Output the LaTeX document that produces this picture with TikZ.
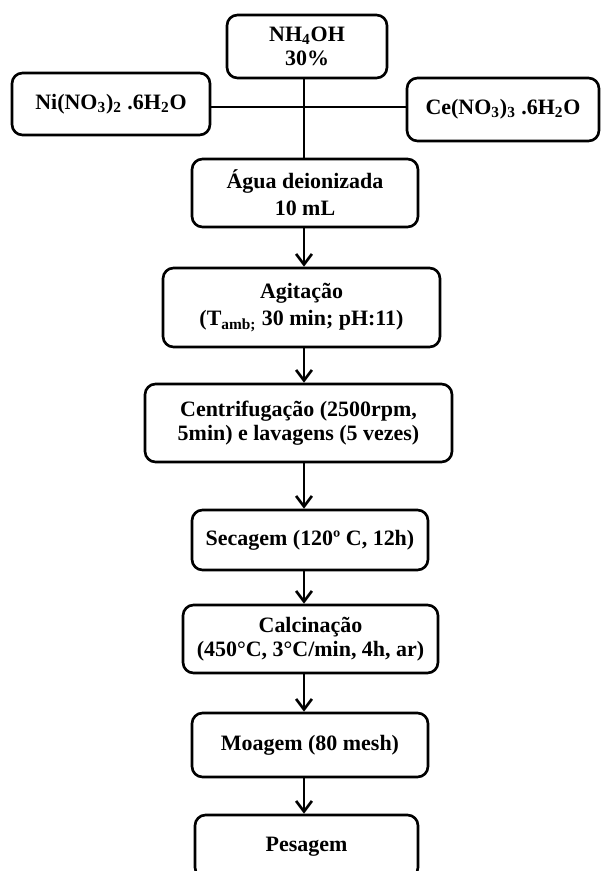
\documentclass[tikz,border=0pt]{standalone}
\usepackage{fontspec}
\setmainfont{Liberation Serif}
\usetikzlibrary{arrows.meta}

\begin{document}
\begin{tikzpicture}[x=0.02cm, y=-0.02cm,
  every node/.style={font=\fontsize{12.5}{13.5}\selectfont\bfseries},
  box/.style={draw=black,line width=1.5pt,rounded corners=6pt,inner sep=2pt,align=center},
  ln/.style={draw=black,line width=1.5pt},
  ar/.style={-{Straight Barb[length=6pt,width=9pt]},draw=black,line width=1.5pt}]
\useasboundingbox (0,0) rectangle (600,871);
\node[box,minimum width=3.2cm,minimum height=1.26cm] (nh4) at (307,46.5) {NH\textsubscript{4}OH\\30\%};
\node[box,minimum width=3.96cm,minimum height=1.24cm] (ni) at (111,104) {Ni(NO\textsubscript{3})\textsubscript{2} .6H\textsubscript{2}O};
\node[box,minimum width=3.84cm,minimum height=1.26cm] (ce) at (503,109.5) {Ce(NO\textsubscript{3})\textsubscript{3} .6H\textsubscript{2}O};
\coordinate (mix) at (304,107);
\node[box,minimum width=4.52cm,minimum height=1.36cm] (agua) at (305,193) {Água deionizada\\[2pt]10 mL};
\node[box,minimum width=5.54cm,minimum height=1.58cm] (agit) at (301.5,307.5) {Agitação\\[2pt](T\textsubscript{amb;} 30 min; pH:11)};
\node[box,minimum width=6.14cm,minimum height=1.56cm] (centr) at (298.5,423) {Centrifugação (2500rpm,\\5min) e lavagens (5 vezes)};
\node[box,minimum width=4.72cm,minimum height=1.2cm] (sec) at (310,540) {Secagem (120º C, 12h)};
\node[box,minimum width=5.1cm,minimum height=1.36cm] (calc) at (310.5,639) {Calcinação\\(450°C, 3°C/min, 4h, ar)};
\node[box,minimum width=4.72cm,minimum height=1.28cm] (moa) at (310,745) {Moagem (80 mesh)};
\node[box,minimum width=4.46cm,minimum height=1.26cm] (pes) at (306.5,846.5) {Pesagem};
\draw[ln] (ni.east |- mix) -- (ce.west |- mix);
\draw[ln] (mix |- nh4.south) -- (mix |- agua.north);
\draw[ar] (mix |- agua.south) -- (mix |- agit.north);
\draw[ar] (mix |- agit.south) -- (mix |- centr.north);
\draw[ar] (mix |- centr.south) -- (mix |- sec.north);
\draw[ar] (mix |- sec.south) -- (mix |- calc.north);
\draw[ar] (mix |- calc.south) -- (mix |- moa.north);
\draw[ar] (mix |- moa.south) -- (mix |- pes.north);
\end{tikzpicture}
\end{document}
